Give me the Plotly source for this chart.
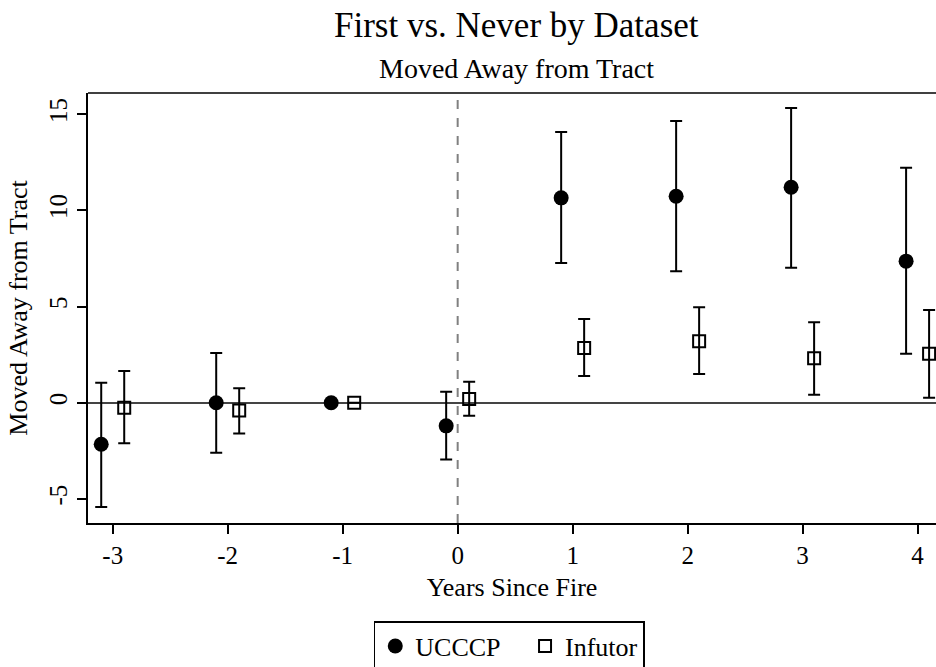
import plotly.graph_objects as go

# ---- data ----
years = [-3, -2, -1, 0, 1, 2, 3, 4]

ucccp_est = [-2.16, 0.0, 0.0, -1.20, 10.65, 10.73, 11.20, 7.36]
ucccp_hi = [1.04, 2.58, None, 0.57, 14.07, 14.64, 15.32, 12.21]
ucccp_lo = [-5.42, -2.60, None, -2.95, 7.26, 6.84, 7.02, 2.55]

infutor_est = [-0.26, -0.40, 0.0, 0.19, 2.84, 3.20, 2.31, 2.55]
infutor_hi = [1.65, 0.75, None, 1.09, 4.35, 4.97, 4.18, 4.82]
infutor_lo = [-2.10, -1.60, None, -0.68, 1.39, 1.49, 0.42, 0.26]

x_ticks = [-3, -2, -1, 0, 1, 2, 3, 4]
y_ticks = [-5, 0, 5, 10, 15]

FONT = "Liberation Serif"


def err(est, hi, lo):
    plus = [None if h is None else h - e for e, h in zip(est, hi)]
    minus = [None if l is None else e - l for e, l in zip(est, lo)]
    return plus, minus


up_u, dn_u = err(ucccp_est, ucccp_hi, ucccp_lo)
up_i, dn_i = err(infutor_est, infutor_hi, infutor_lo)

fig = go.Figure()
fig.add_trace(go.Scatter(
    x=[y - 0.1 for y in years], y=ucccp_est, mode="markers", name="UCCCP&nbsp;&nbsp;&nbsp;",
    marker=dict(symbol="circle", size=15, color="black"),
    error_y=dict(type="data", array=up_u, arrayminus=dn_u, symmetric=False,
                 color="black", thickness=2, width=6),
))
fig.add_trace(go.Scatter(
    x=[y + 0.1 for y in years], y=infutor_est, mode="markers", name="Infutor",
    marker=dict(symbol="square-open", size=12, color="black", line=dict(width=2, color="black")),
    error_y=dict(type="data", array=up_i, arrayminus=dn_i, symmetric=False,
                 color="black", thickness=2, width=6),
))

# vertical dashed reference line at 0
fig.add_shape(type="line", xref="x", yref="paper", x0=0, x1=0, y0=0, y1=1,
              line=dict(color="#808080", width=2, dash="dash"), layer="below")
# top border line
fig.add_shape(type="line", xref="paper", yref="paper", x0=0, x1=1, y0=1, y1=1,
              line=dict(color="black", width=1.5))

fig.update_layout(
    width=936, height=667,
    margin=dict(l=88, r=0, t=93, b=144, autoexpand=False),
    paper_bgcolor="white", plot_bgcolor="white",
    font=dict(family=FONT, color="black", size=25),
    showlegend=True,
    legend=dict(orientation="h", x=0.337, xanchor="left", y=-0.228, yanchor="top",
                bordercolor="black", borderwidth=1.5, font=dict(size=26, family=FONT),
                itemwidth=30),
    annotations=[
        dict(text="First vs. Never by Dataset", xref="paper", yref="paper",
             x=0.505, y=1.0, yshift=68, xanchor="center", yanchor="middle",
             showarrow=False, font=dict(size=35, family=FONT)),
        dict(text="Moved Away from Tract", xref="paper", yref="paper",
             x=0.505, y=1.0, yshift=25, xanchor="center", yanchor="middle",
             showarrow=False, font=dict(size=28, family=FONT)),
    ],
)

fig.update_xaxes(
    range=[-3.215, 4.16], tickvals=x_ticks, ticktext=[str(t) for t in x_ticks],
    showgrid=False, zeroline=False, showline=True, linecolor="black", linewidth=1.5,
    ticks="outside", ticklen=9, tickwidth=1.5, tickcolor="black",
    tickfont=dict(size=25, family=FONT),
    title=dict(text="Years Since Fire", font=dict(size=26, family=FONT), standoff=10),
)
fig.update_yaxes(
    range=[-6.25, 16.1], tickvals=y_ticks, ticktext=[str(t) for t in y_ticks],
    showgrid=False, zeroline=True, zerolinecolor="#444444", zerolinewidth=1.5,
    showline=True, linecolor="black", linewidth=1.5,
    ticks="outside", ticklen=9, tickwidth=1.5, tickcolor="black",
    tickangle=-90, tickfont=dict(size=25, family=FONT),
    title=dict(text="Moved Away from Tract", font=dict(size=26, family=FONT), standoff=10),
)

fig.write_html("out.html")
